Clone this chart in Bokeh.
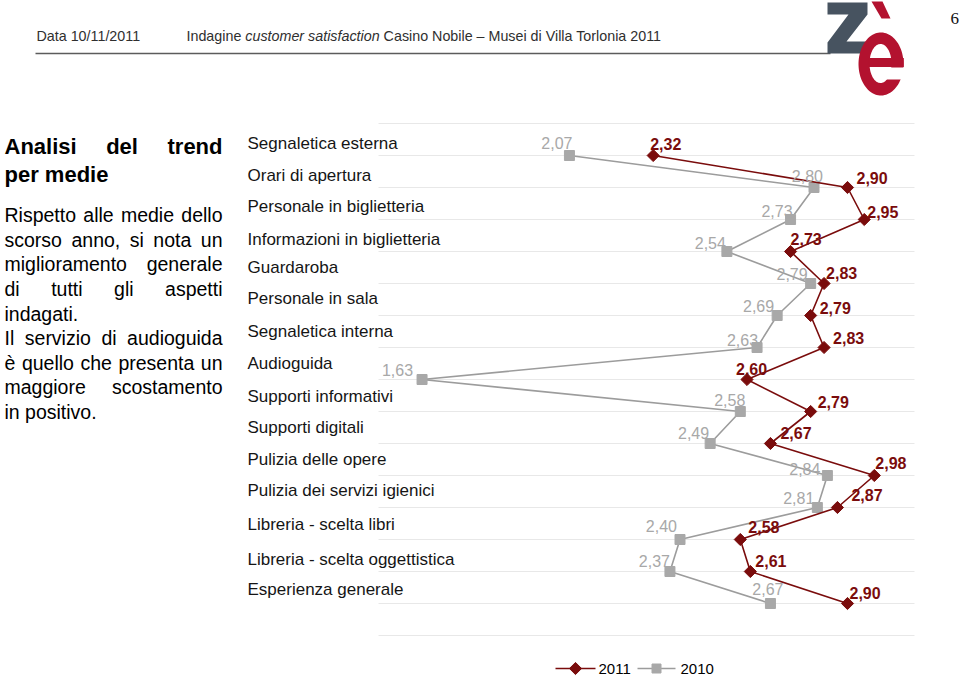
import math
import numpy as np
from bokeh.plotting import figure
from bokeh.models import Range1d
from bokeh.embed import file_html
from bokeh.resources import INLINE
from bokeh.core.properties import value

# ---------------- data ----------------
categories = [
    "Segnaletica esterna", "Orari di apertura", "Personale in biglietteria",
    "Informazioni in biglietteria", "Guardaroba", "Personale in sala",
    "Segnaletica interna", "Audioguida", "Supporti informativi",
    "Supporti digitali", "Pulizia delle opere", "Pulizia dei servizi igienici",
    "Libreria - scelta libri", "Libreria - scelta oggettistica", "Esperienza generale",
]
values_2011 = [2.32, 2.90, 2.95, 2.73, 2.83, 2.79, 2.83, 2.60, 2.79, 2.67, 2.98, 2.87, 2.58, 2.61, 2.90]
values_2010 = [2.07, 2.80, 2.73, 2.54, 2.79, 2.69, 2.63, 1.63, 2.58, 2.49, 2.84, 2.81, 2.40, 2.37, 2.67]
series_labels = ["2011", "2010"]
x_min, x_max = 1.5, 3.1

header_date = "Data 10/11/2011"
header_parts = ["Indagine", "customer satisfaction", "Casino Nobile \u2013 Musei di Villa Torlonia 2011"]
page_number = "6"
title_lines = ["Analisi del trend", "per medie"]
body_lines = [
    ("Rispetto alle medie dello", True), ("scorso anno, si nota un", True),
    ("miglioramento generale", True), ("di tutti gli aspetti", True),
    ("indagati.", False), ("Il servizio di audioguida", True),
    ("\u00e8 quello che presenta un", True), ("maggiore scostamento", True),
    ("in positivo.", False),
]

# label offsets (pixels) relative to each point / row line, as placed on the slide
cat_label_dy = [-12, -12, -13, -12, -16, -17, -16, -16, -15, -16, -16, -17, -15, -12, -14]
off_2011_dx = [-3, 9, 3, 0, 2, 9, 9, -11, 7, 10, 1, 14, 8, 5, 2]
off_2011_dy = [-12, -10, -8, -13, -11, -8, -10, -11, -10, -11, -13, -13, -13, -11, -11]
off_2010_dx = [3, 9, 2, -1, -3, -3, 1, -9, 5, -1, -7, -3, -3, 0, 13]
off_2010_dy = [-13, -12, -9, -9, -10, -10, -8, -10, -12, -11, -7, -10, -14, -11, -15]

# ---------------- layout ----------------
W, H = 960, 678
ORIGIN_X, ORIGIN_Y = 0, 0
FRAME_LEFT, FRAME_RIGHT, FRAME_TOP, ROW_PX = 378, 914, 123, 32
PX_PER_UNIT = (FRAME_RIGHT - FRAME_LEFT) / (x_max - x_min)

RED = "#7a0c0c"
GREY_LINE = "#9c9c9c"
GREY = "#a8a8a8"
FONT = value("Liberation Sans")


def X(px):
    return x_min + (np.asarray(px, dtype=float) - FRAME_LEFT) / PX_PER_UNIT


def Y(py):
    return (np.asarray(py, dtype=float) - FRAME_TOP) / ROW_PX


p = figure(width=W, height=H,
           x_range=Range1d(float(X(ORIGIN_X)), float(X(ORIGIN_X + W))),
           y_range=Range1d(float(Y(ORIGIN_Y + H)), float(Y(ORIGIN_Y))),
           output_backend="svg", toolbar_location=None,
           x_axis_location=None, y_axis_location=None,
           min_border=0, outline_line_color=None)
p.background_fill_color = "white"
p.border_fill_color = "white"
p.xgrid.visible = False
p.ygrid.visible = False

# Arial / Liberation Sans advance widths (per 1000 em) for text placement
REG = dict(zip("abcdefghijklmnopqrstuvwxyz",
               [556, 556, 500, 556, 556, 278, 556, 556, 222, 222, 500, 222, 833,
                556, 556, 556, 556, 333, 500, 278, 556, 500, 722, 500, 500, 500]))
REG.update(dict(zip("ABCDEFGHIJKLMNOPQRSTUVWXYZ",
                    [667, 667, 722, 722, 667, 611, 778, 722, 278, 500, 667, 556, 833,
                     722, 778, 667, 778, 722, 667, 611, 722, 667, 944, 667, 667, 611])))
REG.update({c: 556 for c in "0123456789"})
REG.update({" ": 278, ",": 278, ".": 278, "-": 333, "\u2013": 556, "/": 278, "\u00e8": 556})
BOLD = dict(zip("abcdefghijklmnopqrstuvwxyz",
                [556, 611, 556, 611, 556, 333, 611, 611, 278, 278, 556, 278, 889,
                 611, 611, 611, 611, 389, 556, 333, 611, 556, 778, 556, 556, 500]))
BOLD.update({" ": 278, "A": 722})


def tw(s, size, bold=False):
    t = BOLD if bold else REG
    return sum(t.get(c, 556) for c in s) * size / 1000.0


def place(line, left, right, size, bold, justify):
    words = line.split(" ")
    widths = [tw(w, size, bold) for w in words]
    if justify and len(words) > 1:
        gap = (right - left - sum(widths)) / (len(words) - 1)
    else:
        gap = tw(" ", size, bold)
    xs, x = [], left
    for wd in widths:
        xs.append(x)
        x += wd + gap
    return words, xs


# ---------------- header ----------------
HDR_SIZE = 14.3
p.text(x=[float(X(36))], y=[float(Y(35))], text=[header_date], text_font=FONT,
       text_font_size=f"{HDR_SIZE}px", text_color="#2f2f2f", text_baseline="middle")
hx = 186.0
hx1 = hx + tw(header_parts[0] + " ", HDR_SIZE)
hx2 = hx1 + tw(header_parts[1] + " ", HDR_SIZE)
p.text(x=[float(X(hx)), float(X(hx2))], y=[float(Y(35))] * 2,
       text=[header_parts[0], header_parts[2]], text_font=FONT,
       text_font_size=f"{HDR_SIZE}px", text_color="#2f2f2f", text_baseline="middle")
p.text(x=[float(X(hx1))], y=[float(Y(35))], text=[header_parts[1]], text_font=FONT,
       text_font_style="italic", text_font_size=f"{HDR_SIZE}px", text_color="#2f2f2f",
       text_baseline="middle")
p.segment(x0=[float(X(35))], x1=[float(X(830))], y0=[float(Y(53))], y1=[float(Y(53))],
          line_color="#5c5c5c", line_width=1.5)
p.text(x=[float(X(950))], y=[float(Y(18))], text=[page_number],
       text_font=value("Liberation Serif"), text_font_size="17px", text_color="#111111",
       text_baseline="middle")

# logo "zè"
z_px = [827, 867, 867, 846, 867, 867, 827, 827, 848, 827]
z_py = [2, 2, 14, 41, 41, 53, 53, 42, 14, 14]
p.patch(x=X(z_px), y=Y(z_py), fill_color="#475360", line_color=None)
LOGO_RED = "#b3122f"
t = np.linspace(0, 2 * np.pi, 90)
ox, oy = 880.5 + 22.5 * np.cos(t), 63.5 + 31.5 * np.sin(t)
ix, iy = 880.0 + 11.0 * np.cos(t), 63.0 + 19.5 * np.sin(t)
p.multi_polygons(xs=[[[list(X(ox)), list(X(ix))]]], ys=[[[list(Y(oy)), list(Y(iy))]]],
                 fill_color=LOGO_RED, line_color=None)
p.quad(left=[float(X(883))], right=[float(X(906))], top=[float(Y(67))], bottom=[float(Y(79))],
       fill_color="white", line_color=None)
p.quad(left=[float(X(868))], right=[float(X(903.3))], top=[float(Y(57.5))], bottom=[float(Y(66.5))],
       fill_color=LOGO_RED, line_color=None)
p.patch(x=X([871, 882, 890, 881]), y=Y([1, 1, 18, 18]), fill_color=LOGO_RED, line_color=None)

# ---------------- left text ----------------
LEFT, RIGHT = 4.0, 222.0
tx, ty, tt = [], [], []
for line, base, just in [(title_lines[0], 145.5, True), (title_lines[1], 173.5, False)]:
    words, xs = place(line, LEFT, RIGHT, 22, True, just)
    tx += [float(X(v)) for v in xs]
    ty += [float(Y(base))] * len(words)
    tt += words
p.text(x=tx, y=ty, text=tt, text_font=FONT, text_font_style="bold", text_font_size="22px",
       text_color="#000000", text_baseline="alphabetic")

bx, by, bt = [], [], []
for k, (line, just) in enumerate(body_lines):
    base = 214.7 + k * 24.6
    words, xs = place(line, LEFT, RIGHT, 19.5, False, just)
    bx += [float(X(v)) for v in xs]
    by += [float(Y(base))] * len(words)
    bt += words
p.text(x=bx, y=by, text=bt, text_font=FONT, text_font_size="19.5px",
       text_color="#000000", text_baseline="alphabetic")

# ---------------- chart ----------------
rows = list(range(1, len(categories) + 1))
grid_rows = list(range(0, len(categories) + 2))
p.segment(x0=x_min, x1=x_max, y0=grid_rows, y1=grid_rows, line_color="#e8e8e8", line_width=1)

p.text(x=float(X(247)), y=rows, text=categories, y_offset=cat_label_dy, text_font=FONT,
       text_font_size="17px", text_color="#151515", text_baseline="middle")

p.line(values_2010, rows, line_color=GREY_LINE, line_width=1.6)
p.scatter(values_2010, rows, marker="square", size=10, fill_color=GREY, line_color=GREY)
p.line(values_2011, rows, line_color=RED, line_width=1.6)
p.scatter(values_2011, rows, marker="square", angle=math.pi / 4, size=8.6,
          fill_color=RED, line_color=RED)

lab_2010 = [f"{v:.2f}".replace(".", ",") for v in values_2010]
lab_2011 = [f"{v:.2f}".replace(".", ",") for v in values_2011]
p.text(x=values_2010, y=rows, text=lab_2010, x_offset=off_2010_dx, y_offset=off_2010_dy,
       text_align="right", text_baseline="middle", text_font=FONT, text_font_size="16px",
       text_color=GREY)
p.text(x=values_2011, y=rows, text=lab_2011, x_offset=off_2011_dx, y_offset=off_2011_dy,
       text_align="left", text_baseline="middle", text_font=FONT, text_font_size="16px",
       text_font_style="bold", text_color=RED)

# ---------------- legend ----------------
LY = float(Y(668))
p.segment(x0=[float(X(555))], x1=[float(X(595))], y0=[LY], y1=[LY], line_color=RED, line_width=1.6)
p.scatter([float(X(575))], [LY], marker="square", angle=math.pi / 4, size=8.6,
          fill_color=RED, line_color=RED)
p.segment(x0=[float(X(637))], x1=[float(X(675))], y0=[LY], y1=[LY], line_color=GREY_LINE, line_width=1.6)
p.scatter([float(X(656))], [LY], marker="square", size=9, fill_color=GREY, line_color=GREY)
p.text(x=[float(X(598)), float(X(680))], y=[LY, LY], text=series_labels, text_font=FONT,
       text_font_size="15px", text_color="#000000", text_baseline="middle")

open("out.html", "w").write(file_html(p, INLINE))
